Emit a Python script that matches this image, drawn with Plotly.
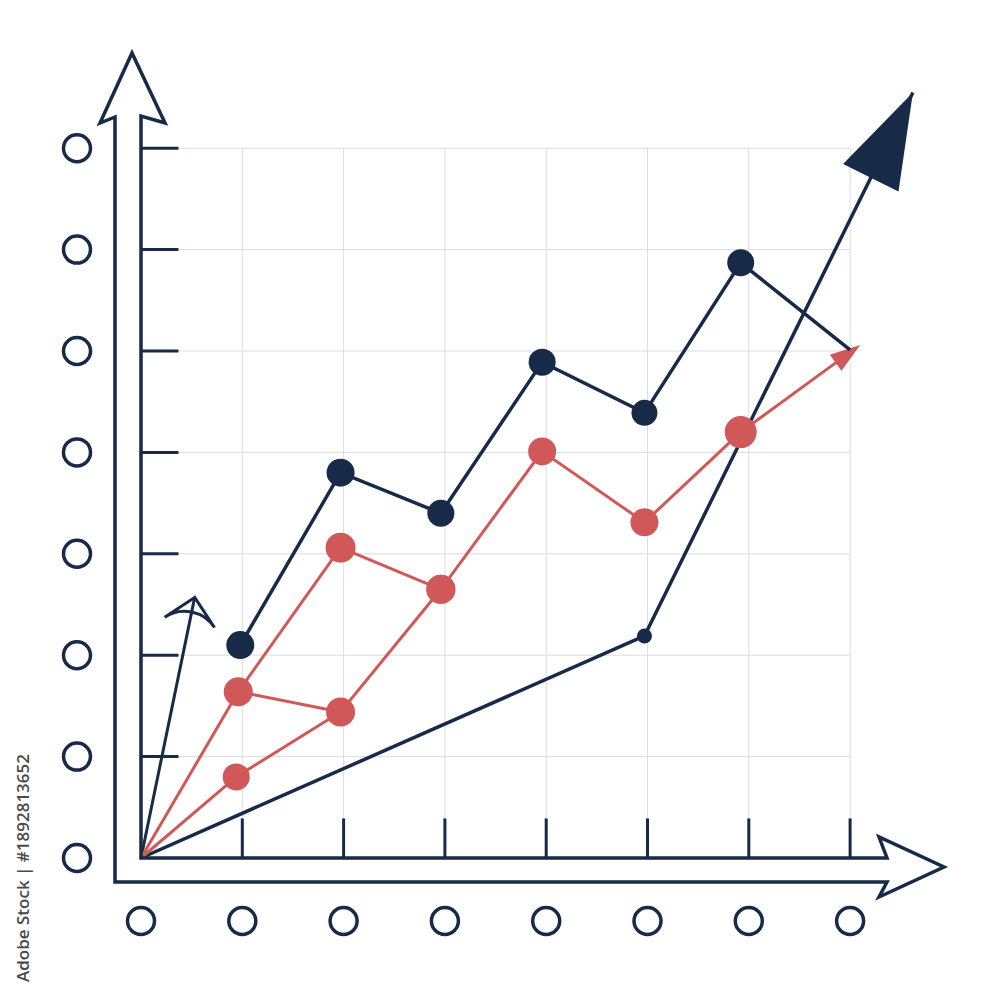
import plotly.graph_objects as go

# ---- data (chart units: one grid step = 1) ----
x_ticks = [0, 1, 2, 3, 4, 5, 6, 7]
y_ticks = [0, 1, 2, 3, 4, 5, 6, 7]

navy_x = [0.98, 1.97, 2.96, 3.96, 4.97, 5.92, 7.0]
navy_y = [2.10, 3.80, 3.40, 4.89, 4.39, 5.87, 5.01]

red_main_x = [0, 0.96, 1.97, 2.96, 3.96, 4.97, 5.92, 7.10]
red_main_y = [0, 1.64, 3.06, 2.65, 4.01, 3.31, 4.20, 5.06]

red_low_x = [0, 0.94, 1.97, 2.96]
red_low_y = [0, 0.80, 1.44, 2.65]

red_link_x = [0.96, 1.97]
red_link_y = [1.64, 1.44]

trend_x = [0, 4.97, 7.62]
trend_y = [0, 2.19, 7.55]

small_arrow_x = [0, 0.53]
small_arrow_y = [0, 2.57]

NAVY = "#172a47"
RED = "#d05858"
GRID = "#dcdcdc"

# the page body adds an 8px margin, so shift everything back by 8px
PAD = 8
X0, Y0, SX, SY = 141 - PAD, 858 - PAD, 101.3, 101.4


def ux(p):
    return (p - PAD - X0) / SX


def uy(p):
    return (Y0 - (p - PAD)) / SY


fig = go.Figure()

shapes = []
# light grid
for t in x_ticks[1:]:
    shapes.append(dict(type="line", x0=t, x1=t, y0=0, y1=7, line=dict(color=GRID, width=1), layer="below"))
for t in y_ticks[1:]:
    shapes.append(dict(type="line", x0=0, x1=7, y0=t, y1=t, line=dict(color=GRID, width=1), layer="below"))
# tick marks
for t in x_ticks[1:]:
    shapes.append(dict(type="line", x0=t, x1=t, y0=0, y1=0.39, line=dict(color=NAVY, width=3)))
for t in y_ticks[1:]:
    shapes.append(dict(type="line", x0=0, x1=0.37, y0=t, y1=t, line=dict(color=NAVY, width=3)))

# double-line axes with outlined arrowheads (page pixel positions)
outline = [(115, 882), (115, 117), (100, 123), (132, 53), (165, 123), (141, 116),
           (141, 858), (887, 858), (879, 837), (944, 867), (879, 897), (887, 882), (115, 882)]
path = "M" + " L".join(f"{ux(a):.4f},{uy(b):.4f}" for a, b in outline) + " Z"
shapes.append(dict(type="path", path=path, line=dict(color=NAVY, width=3.5), fillcolor="rgba(0,0,0,0)"))

no_edge = dict(width=0)

# lines
fig.add_trace(go.Scatter(x=trend_x, y=trend_y, mode="lines+markers",
                         line=dict(color=NAVY, width=3.5),
                         marker=dict(symbol=["circle", "circle", "arrow"], size=[0, 15, 100],
                                     angleref="previous", color=NAVY, opacity=1, line=no_edge)))
fig.add_trace(go.Scatter(x=small_arrow_x, y=small_arrow_y, mode="lines+markers",
                         line=dict(color=NAVY, width=3),
                         marker=dict(symbol=["circle", "arrow-wide-open"], size=[0, 36],
                                     angleref="previous", color=NAVY, opacity=1,
                                     line=dict(width=3, color=NAVY))))
fig.add_trace(go.Scatter(x=red_link_x, y=red_link_y, mode="lines",
                         line=dict(color=RED, width=3)))
fig.add_trace(go.Scatter(x=red_low_x, y=red_low_y, mode="lines+markers",
                         line=dict(color=RED, width=3),
                         marker=dict(size=[0, 27, 29, 29], color=RED, opacity=1, line=no_edge)))
fig.add_trace(go.Scatter(x=red_main_x, y=red_main_y, mode="lines+markers",
                         line=dict(color=RED, width=3),
                         marker=dict(symbol=["circle"] * 7 + ["arrow"],
                                     size=[0, 29, 30, 29, 28, 28, 32, 32],
                                     angleref="previous", color=RED, opacity=1, line=no_edge)))
fig.add_trace(go.Scatter(x=navy_x, y=navy_y, mode="lines+markers",
                         line=dict(color=NAVY, width=3.5),
                         marker=dict(size=[28, 28, 27, 27, 26, 27, 0], color=NAVY, opacity=1,
                                     line=no_edge)))

# circle "labels"
fig.add_trace(go.Scatter(x=[ux(77)] * len(y_ticks), y=y_ticks, mode="markers",
                         marker=dict(symbol="circle-open", size=27, color=NAVY, line=dict(width=3.5))))
fig.add_trace(go.Scatter(x=x_ticks, y=[uy(921)] * len(x_ticks), mode="markers",
                         marker=dict(symbol="circle-open", size=27, color=NAVY, line=dict(width=3.5))))

fig.add_annotation(text="Adobe Stock | #1892813652", textangle=-90,
                   x=ux(22), y=uy(868), xref="x", yref="y", showarrow=False,
                   font=dict(family="Open Sans", size=17, color="#4a4a4a", weight=600))

fig.update_layout(
    width=1000, height=1000,
    margin=dict(l=0, r=0, t=0, b=0),
    paper_bgcolor="white", plot_bgcolor="white",
    showlegend=False, shapes=shapes,
    xaxis=dict(range=[(0 - X0) / SX, (1000 - X0) / SX], visible=False, fixedrange=True),
    yaxis=dict(range=[(Y0 - 1000) / SY, Y0 / SY], visible=False, fixedrange=True),
)

fig.write_html("out.html")
